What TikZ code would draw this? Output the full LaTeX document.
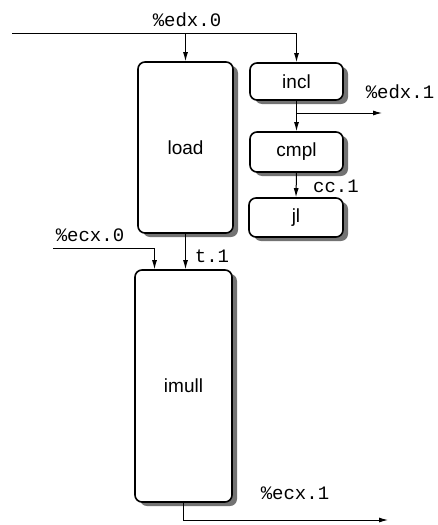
\documentclass[tikz,border=0pt]{standalone}
\usepackage{fontspec}
\setmainfont{Liberation Sans}
\setmonofont{Liberation Mono}
\usepackage{tikz}
\usetikzlibrary{arrows.meta,positioning,shadows}
\tikzset{
  pipebox/.style  = {rectangle, rounded corners=7pt, draw=black, line width=1.6pt,
                     fill=white, inner sep=0pt, font=\fontsize{19}{20}\selectfont,
                     drop shadow={shadow xshift=5pt, shadow yshift=-4pt,
                                  fill=black!55, opacity=1}},
  pipeflow/.style = {-{Latex[length=9pt,width=5pt]}, draw=black, line width=1pt},
  pipereg/.style  = {font=\fontsize{19}{20}\ttfamily, inner sep=1pt},
}

\begin{document}
\begin{tikzpicture}[x=1pt,y=-1pt]
  \useasboundingbox (0,0) rectangle (438,525);

  % operation boxes
  \node[pipebox, minimum width=95pt, minimum height=171pt] (load)  at (185.5,147.5) {load};
  \node[pipebox, minimum width=93pt, minimum height=37pt]  (incl)  at (296.5,81.5)  {incl};
  \node[pipebox, minimum width=93pt, minimum height=40pt]  (cmpl)  at (296.5,152)   {cmpl};
  \node[pipebox, minimum width=94pt, minimum height=39pt]  (jl)    at (296,217.5)   {jl};
  \node[pipebox, minimum width=97pt, minimum height=232pt] (imull) at (183.5,386)   {imull};

  % register inputs and outputs
  \coordinate (edxin)  at (12,33);
  \coordinate (edxout) at (382,113);
  \coordinate (ecxin)  at (53,248);
  \coordinate (ecxout) at (388,520);

  \draw[pipeflow] (edxin) -| (incl.north);
  \draw[pipeflow] (load.north |- edxin) -- (load.north);
  \draw[pipeflow] (incl.south) -- (cmpl.north);
  \draw[pipeflow] (incl.south |- edxout) -- (edxout);
  \draw[pipeflow] (cmpl.south) -- (jl.north);
  \draw[pipeflow] (ecxin) -| ([xshift=-29pt]imull.north);
  \draw[pipeflow] (load.south) -- (load.south |- imull.north);
  \draw[pipeflow] (imull.south) |- (ecxout);

  % value labels
  \node[pipereg] (ledx0) at (187,20)  {\%edx.0};
  \node[pipereg] (ledx1) at (400,92)  {\%edx.1};
  \node[pipereg] (lcc1)  at (336,186) {cc.1};
  \node[pipereg] (lecx0) at (90,235)  {\%ecx.0};
  \node[pipereg] (lt1)   at (212,256) {t.1};
  \node[pipereg] (lecx1) at (295,493) {\%ecx.1};
\end{tikzpicture}
\end{document}
